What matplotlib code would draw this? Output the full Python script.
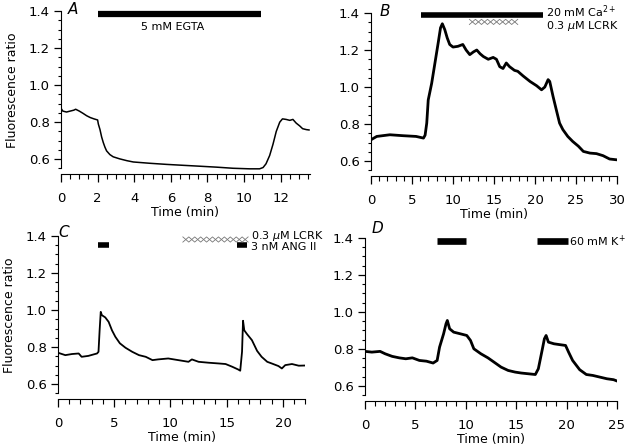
import numpy as np
import matplotlib
matplotlib.use("Agg")
import matplotlib.pyplot as plt
from matplotlib.ticker import MultipleLocator

# ---- traces: (time in min, fluorescence ratio) ----
a_time = [0, 0.1, 0.3, 0.5, 0.7, 0.8, 1.0, 1.2, 1.4, 1.6, 1.8, 2.0, 2.04, 2.13, 2.22,
          2.31, 2.4, 2.49, 2.67, 2.85, 3.2, 3.6, 3.95, 4.85, 5.76, 6.67, 7.6, 8.5,
          9.4, 10.3, 10.85, 11.04, 11.2, 11.4, 11.58, 11.76, 11.95, 12.1, 12.3,
          12.5, 12.67, 12.85, 13.04, 13.2, 13.4, 13.55]
a_ratio = [0.875, 0.86, 0.855, 0.86, 0.865, 0.87, 0.86, 0.848, 0.835, 0.825, 0.818,
           0.812, 0.79, 0.76, 0.72, 0.69, 0.665, 0.645, 0.625, 0.613, 0.602, 0.592,
           0.585, 0.578, 0.572, 0.567, 0.562, 0.557, 0.551, 0.548, 0.548, 0.555,
           0.575, 0.62, 0.68, 0.75, 0.80, 0.818, 0.815, 0.81, 0.815, 0.795, 0.78,
           0.765, 0.76, 0.758]

b_time = [0, 0.7, 2.3, 3.9, 5.5, 6.4, 6.6, 6.8, 6.98, 7.4, 7.8, 8.2, 8.48, 8.7, 9.0,
          9.3, 9.6, 10.0, 10.6, 11.2, 11.6, 12.05, 12.5, 12.9, 13.3, 13.7, 14.3,
          14.9, 15.3, 15.7, 16.1, 16.5, 16.9, 17.5, 17.9, 18.55, 19.4, 20.2, 20.8,
          21.2, 21.6, 21.8, 22.2, 22.6, 23.0, 23.4, 24.0, 24.6, 25.3, 25.9, 26.7,
          27.5, 28.3, 29.1, 29.9]
b_ratio = [0.715, 0.733, 0.742, 0.737, 0.733, 0.724, 0.74, 0.805, 0.93, 1.02, 1.13,
           1.24, 1.32, 1.342, 1.31, 1.265, 1.23, 1.216, 1.22, 1.23, 1.20, 1.175,
           1.19, 1.20, 1.18, 1.165, 1.15, 1.16, 1.15, 1.11, 1.10, 1.13, 1.11, 1.09,
           1.085, 1.06, 1.03, 1.007, 0.985, 1.0, 1.04, 1.03, 0.95, 0.877, 0.805,
           0.77, 0.733, 0.706, 0.68, 0.652, 0.643, 0.64, 0.629, 0.611, 0.607]

c_time = [0, 0.65, 1.24, 1.84, 2.1, 2.7, 3.17, 3.47, 3.6, 3.7, 3.8, 3.9, 4.2, 4.5,
          4.8, 5.1, 5.5, 6.0, 6.6, 7.2, 7.8, 8.4, 8.9, 9.8, 10.7, 11.6, 11.9, 12.5,
          13.4, 14.3, 14.9, 15.5, 16.0, 16.2, 16.36, 16.45, 16.56, 16.8, 17.24,
          17.7, 18.1, 18.6, 19.0, 19.6, 19.9, 20.2, 20.8, 21.4, 22.0]
c_ratio = [0.769, 0.756, 0.762, 0.765, 0.747, 0.752, 0.76, 0.765, 0.774, 0.89, 0.99,
           0.972, 0.96, 0.936, 0.89, 0.855, 0.82, 0.796, 0.774, 0.756, 0.747, 0.729,
           0.733, 0.738, 0.729, 0.72, 0.733, 0.72, 0.715, 0.711, 0.708, 0.693,
           0.679, 0.672, 0.774, 0.942, 0.89, 0.87, 0.837, 0.779, 0.747, 0.72, 0.711,
           0.697, 0.684, 0.702, 0.708, 0.699, 0.70]

d_time = [0, 0.68, 1.5, 2.0, 2.7, 3.4, 4.05, 4.7, 5.4, 6.1, 6.76, 7.16, 7.4, 7.8,
          8.04, 8.17, 8.4, 8.8, 9.46, 10.1, 10.47, 10.8, 11.5, 12.2, 12.8, 13.5,
          14.2, 14.9, 15.5, 16.2, 16.9, 17.2, 17.6, 17.8, 17.97, 18.2, 18.75,
          19.25, 19.9, 20.2, 20.6, 21.3, 21.96, 22.6, 23.3, 24.0, 24.66, 25.0]
d_ratio = [0.787, 0.783, 0.787, 0.774, 0.76, 0.752, 0.747, 0.752, 0.738, 0.734,
           0.724, 0.738, 0.81, 0.882, 0.936, 0.954, 0.909, 0.891, 0.882, 0.873,
           0.846, 0.801, 0.774, 0.752, 0.729, 0.702, 0.684, 0.675, 0.67, 0.666,
           0.662, 0.693, 0.80, 0.855, 0.873, 0.837, 0.828, 0.824, 0.819, 0.783,
           0.738, 0.688, 0.662, 0.657, 0.648, 0.639, 0.634, 0.627]

# ---- application periods (start, end) in min ----
egta_on = [(2.0, 10.9)]
ca_on = [(6.1, 21.0)]
lcrk_b = [(12.0, 17.9)]
ang_on = [(3.55, 4.5), (15.9, 16.8)]
lcrk_c = [(11.1, 16.9)]
k_on = [(7.1, 10.05), (17.1, 20.1)]

FS_TICK = 9.5
FS_LAB = 9
FS_NOTE = 8


def style(ax, xmax, xmaj, xmin, ylabel=True):
    ax.set_xlim(0, xmax)
    ax.set_ylim(0.52, 1.42)
    for s in ("top", "right"):
        ax.spines[s].set_visible(False)
    ax.spines["left"].set_bounds(0.55, 1.4)
    ax.spines["bottom"].set_bounds(0, xmax)
    ax.xaxis.set_major_locator(MultipleLocator(xmaj))
    ax.xaxis.set_minor_locator(MultipleLocator(xmin))
    ax.yaxis.set_major_locator(MultipleLocator(0.2))
    ax.yaxis.set_minor_locator(MultipleLocator(0.05))
    ax.tick_params(axis="x", which="major", direction="out", length=6, width=0.9,
                   pad=7, labelsize=FS_TICK)
    ax.tick_params(axis="x", which="minor", direction="out", length=3.5, width=0.8)
    ax.tick_params(axis="y", which="major", direction="out", length=5, width=0.9,
                   pad=3, labelsize=FS_TICK)
    ax.tick_params(axis="y", which="minor", direction="out", length=2.5, width=0.8)
    ax.set_yticks([0.6, 0.8, 1.0, 1.2, 1.4])
    ax.set_yticklabels(["0.6", "0.8", "1.0", "1.2", "1.4"])
    ax.set_xlabel("Time (min)", fontsize=FS_LAB, labelpad=1)
    if ylabel:
        ax.set_ylabel("Fluorescence ratio", fontsize=FS_LAB, labelpad=7)


def bar(ax, spans, y, lw=4.5):
    for x0, x1 in spans:
        ax.plot([x0, x1], [y, y], color="k", lw=lw, solid_capstyle="butt",
                clip_on=False)


def crosses(ax, spans, y, cell, h=0.014):
    # chain of small x's: two zigzags in opposite phase
    for x0, x1 in spans:
        n = max(1, int(round((x1 - x0) / cell)))
        xs = np.linspace(x0, x1, n + 1)
        ys = np.where(np.arange(n + 1) % 2 == 0, y + h, y - h)
        ax.plot(xs, ys, color="#777", lw=0.6, clip_on=False)
        ax.plot(xs, 2 * y - ys, color="#777", lw=0.6, clip_on=False)


def letter(ax, x, y, s):
    ax.text(x, y, s, fontsize=11, style="italic", ha="center", va="center",
            clip_on=False)


fig = plt.figure(figsize=(6.27, 4.48), dpi=100)

axA = fig.add_axes([0.0973, 0.6116, 0.397, 0.3717])
axB = fig.add_axes([0.5917, 0.6075, 0.3923, 0.3717])
axC = fig.add_axes([0.0925, 0.1098, 0.3947, 0.3717])
axD = fig.add_axes([0.5821, 0.1054, 0.4019, 0.3717])

# A
axA.plot(a_time, a_ratio, color="k", lw=1.1)
style(axA, 13.6, 2, 0.5)
bar(axA, egta_on, 1.384, lw=4.5)
axA.text(6.1, 1.317, "5 mM EGTA", fontsize=FS_NOTE, ha="center", va="center")
letter(axA, 0.65, 1.41, "A")

# B
axB.plot(b_time, b_ratio, color="k", lw=2.0)
style(axB, 30, 5, 1, ylabel=False)
bar(axB, ca_on, 1.387, lw=4)
crosses(axB, lcrk_b, 1.352, 0.73)
axB.text(21.4, 1.405, "20 mM Ca$^{2+}$", fontsize=FS_NOTE, ha="left", va="center",
         clip_on=False)
axB.text(21.4, 1.33, "0.3 $\\mu$M LCRK", fontsize=FS_NOTE, ha="left", va="center",
         clip_on=False)
letter(axB, 1.7, 1.41, "B")

# C
axC.plot(c_time, c_ratio, color="k", lw=1.3)
style(axC, 22, 5, 1)
bar(axC, ang_on, 1.352, lw=4)
crosses(axC, lcrk_c, 1.381, 0.53)
axC.text(17.2, 1.40, "0.3 $\\mu$M LCRK", fontsize=FS_NOTE, ha="left", va="center",
         clip_on=False)
axC.text(17.2, 1.34, "3 nM ANG II", fontsize=FS_NOTE, ha="left", va="center",
         clip_on=False)
letter(axC, 0.5, 1.42, "C")

# D
axD.plot(d_time, d_ratio, color="k", lw=2.0)
style(axD, 25, 5, 1, ylabel=False)
bar(axD, k_on, 1.382, lw=4.8)
axD.text(20.2, 1.382, "60 mM K$^{+}$", fontsize=FS_NOTE, ha="left", va="center",
         clip_on=False)
letter(axD, 1.2, 1.45, "D")

fig.savefig("out.png", dpi=100)
